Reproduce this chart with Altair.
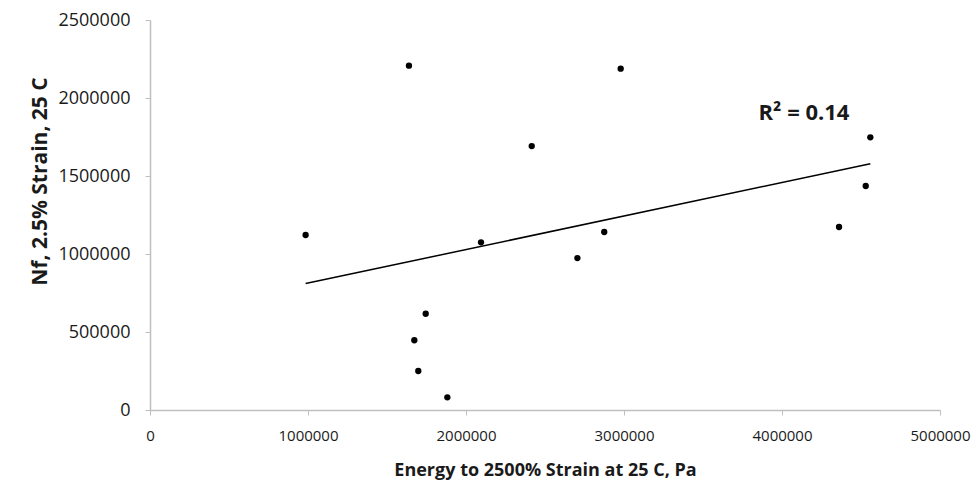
import altair as alt
import numpy as np
import pandas as pd

# Energy to 2500% strain at 25 C (Pa) and cycles to failure at 2.5% strain
energy_pa = [985000, 1639000, 1673000, 1698000, 1745000, 1882000, 2095000,
             2416000, 2705000, 2875000, 2979000, 4361000, 4530000, 4559000]
cycles_nf = [1122000, 2207000, 447000, 250000, 617000, 81000, 1075000,
             1692000, 974000, 1141000, 2188000, 1173000, 1436000, 1748000]

x_ticks = [0, 1000000, 2000000, 3000000, 4000000, 5000000]
y_ticks = [0, 500000, 1000000, 1500000, 2000000, 2500000]

df = pd.DataFrame({"energy": energy_pa, "nf": cycles_nf})

# coefficient of determination of the linear fit
r = np.corrcoef(np.array(energy_pa, float), np.array(cycles_nf, float))[0, 1]
label_df = pd.DataFrame({"label": [f"R\u00b2 = {r * r:.2f}"]})

FONT = "Open Sans"
AXIS_GRAY = "#bfbfbf"

x_enc = alt.X(
    "energy:Q",
    scale=alt.Scale(domain=[0, 5000000], nice=False, zero=True),
    axis=alt.Axis(
        values=x_ticks, format="d", grid=False,
        title="Energy to 2500% Strain at 25 C, Pa",
        titleFont=FONT, titleFontSize=18, titleFontWeight="bold", titleColor="#1a1a1a",
        titleBaseline="alphabetic", titleY=65,
        labelFont=FONT, labelFontSize=15, labelColor="#1a1a1a", labelPadding=13,
        domainColor=AXIS_GRAY, domainWidth=1.5, tickColor=AXIS_GRAY, tickSize=5,
        labelFlush=False,
    ),
)
y_enc = alt.Y(
    "nf:Q",
    scale=alt.Scale(domain=[0, 2500000], nice=False, zero=True),
    axis=alt.Axis(
        values=y_ticks, format="d", grid=False,
        title="Nf, 2.5% Strain, 25 C",
        titleFont=FONT, titleFontSize=21, titleFontWeight="bold", titleColor="#1a1a1a",
        titleX=-110, titleY=161, titleAngle=270, titleBaseline="middle",
        labelFont=FONT, labelFontSize=18, labelColor="#1a1a1a", labelPadding=15,
        domainColor=AXIS_GRAY, domainWidth=1.5, tickColor=AXIS_GRAY, tickSize=5,
        labelFlush=False,
    ),
)

points = alt.Chart(df).mark_circle(size=40, color="black", opacity=1).encode(x=x_enc, y=y_enc)

trend = (
    alt.Chart(df)
    .transform_regression("energy", "nf")
    .mark_line(color="black", strokeWidth=1.5)
    .encode(x="energy:Q", y="nf:Q")
)

r2_text = alt.Chart(label_df).mark_text(
    font=FONT, fontSize=22, fontWeight="bold", color="#1a1a1a",
    align="center", baseline="alphabetic",
).encode(text="label:N", x=alt.value(654), y=alt.value(100))

chart = (
    alt.layer(points, trend, r2_text)
    .properties(
        width=790, height=390,
        autosize=alt.AutoSizeParams(type="none"),
        padding={"left": 150, "top": 20, "right": 36, "bottom": 72},
        background="white",
    )
    .configure_view(stroke=None)
)

chart.save("out.html", embed_options={"renderer": "svg", "actions": False})
